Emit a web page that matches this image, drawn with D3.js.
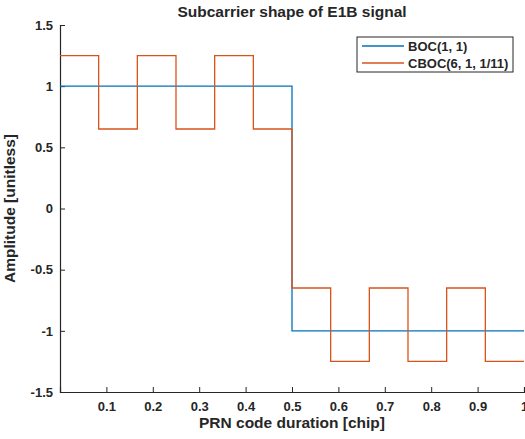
<!DOCTYPE html>
<html>
<head>
<meta charset="UTF-8">
<style>
  body { margin: 0; background: #fff; }
  text { font-family: "Liberation Sans", Arial, sans-serif; font-weight: bold; fill: #262626; }
</style>
</head>
<body>
<svg id="chart" width="525" height="439"></svg>
<script src="https://d3js.org/d3.v7.min.js"></script>
<script>
// data
var xTicks = [0.1, 0.2, 0.3, 0.4, 0.5, 0.6, 0.7, 0.8, 0.9, 1];
var yTicks = [-1.5, -1, -0.5, 0, 0.5, 1, 1.5];

// step edges (chip) and level held after each edge
var bocX = [0, 0.5, 1];
var bocY = [1, -1, -1];

var cbocX = [0, 1/12, 2/12, 3/12, 4/12, 5/12, 6/12, 7/12, 8/12, 9/12, 10/12, 11/12, 1];
var cbocY = [1.25, 0.65, 1.25, 0.65, 1.25, 0.65, -0.65, -1.25, -0.65, -1.25, -0.65, -1.25, -1.25];

var seriesNames = ["BOC(1, 1)", "CBOC(6, 1, 1/11)"];
var seriesColors = ["#0072BD", "#D95319"];

var svg = d3.select("#chart");

var x = d3.scaleLinear().domain([0, 1]).range([60, 524]);
var y = d3.scaleLinear().domain([-1.5, 1.5]).range([392, 25]);

// matlab writes a plain hyphen for minus
function fmt(d) { return String(d); }

// axes, ticks pointing inward like matlab
var xAxis = svg.append("g")
    .attr("transform", "translate(0," + y(-1.5) + ")")
    .call(d3.axisBottom(x).tickValues(xTicks).tickSize(-5).tickPadding(10).tickFormat(fmt));

var yAxis = svg.append("g")
    .attr("transform", "translate(" + x(0) + ",0)")
    .call(d3.axisLeft(y).tickValues(yTicks).tickSize(-5).tickPadding(7).tickFormat(fmt));

[xAxis, yAxis].forEach(function (g) {
    g.select(".domain").attr("stroke", "#262626").attr("stroke-width", 1.2);
    g.selectAll(".tick line").attr("stroke", "#262626");
    g.selectAll("text").style("font-size", "13px").attr("font-family", null);
});

var line = d3.line()
    .x(function (d) { return x(d[0]); })
    .y(function (d) { return y(d[1]); })
    .curve(d3.curveStepAfter);

svg.append("path")
    .datum(d3.zip(bocX, bocY))
    .attr("d", line)
    .attr("fill", "none")
    .attr("stroke", seriesColors[0])
    .attr("stroke-width", 1.3);

svg.append("path")
    .datum(d3.zip(cbocX, cbocY))
    .attr("d", line)
    .attr("fill", "none")
    .attr("stroke", seriesColors[1])
    .attr("stroke-width", 1.3);

// title and labels
svg.append("text")
    .attr("x", 292).attr("y", 17)
    .attr("text-anchor", "middle")
    .style("font-size", "15.5px")
    .text("Subcarrier shape of E1B signal");

svg.append("text")
    .attr("x", 292).attr("y", 428)
    .attr("text-anchor", "middle")
    .style("font-size", "15.5px")
    .text("PRN code duration [chip]");

svg.append("text")
    .attr("transform", "translate(15," + y(0) + ") rotate(-90)")
    .attr("text-anchor", "middle")
    .style("font-size", "15.5px")
    .text("Amplitude [unitless]");

// legend
var legend = svg.append("g");
legend.append("rect")
    .attr("x", 357).attr("y", 37)
    .attr("width", 156).attr("height", 35)
    .attr("fill", "#fff")
    .attr("stroke", "#262626")
    .attr("stroke-width", 1);

seriesNames.forEach(function (name, i) {
    var ly = 46 + i * 17;
    legend.append("line")
        .attr("x1", 362).attr("x2", 404)
        .attr("y1", ly).attr("y2", ly)
        .attr("stroke", seriesColors[i])
        .attr("stroke-width", 1.3);
    legend.append("text")
        .attr("x", 408).attr("y", ly)
        .attr("dy", "0.35em")
        .style("font-size", "13px")
        .text(name);
});
</script>
</body>
</html>
